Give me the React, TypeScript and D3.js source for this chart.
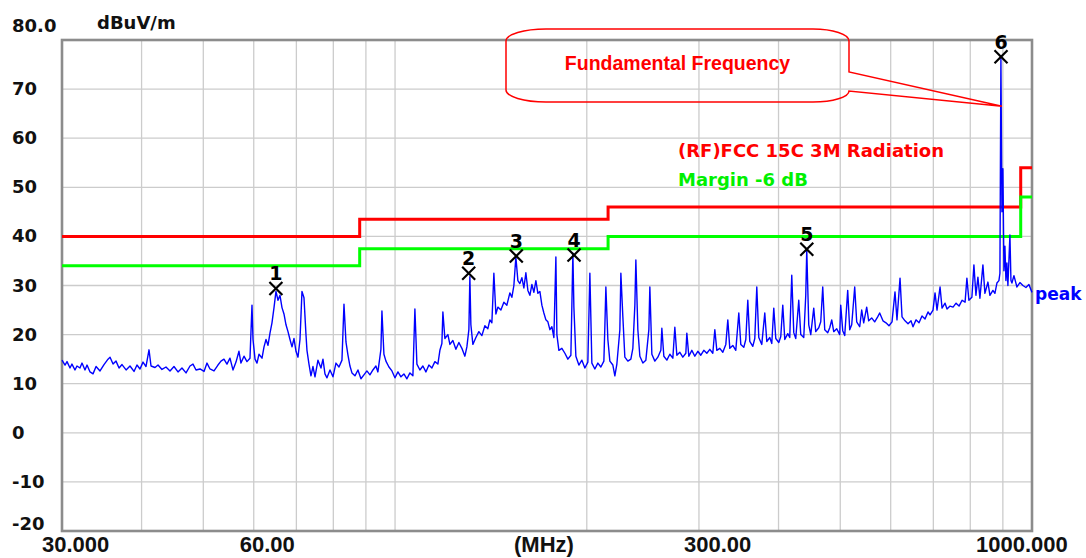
import React from 'react';
import * as d3 from 'd3';

// ---- data ----
const traceMHz = [
  30.00, 30.33, 30.55, 30.88, 31.10, 31.44, 31.67, 32.01, 32.25, 32.60, 32.84, 33.20, 33.56, 33.93, 34.42, 34.92,
  35.43, 35.69, 36.08, 36.47, 36.87, 37.27, 37.82, 38.36, 38.92, 39.34, 39.77, 40.21, 40.64, 41.09, 41.39, 41.99,
  42.45, 43.06, 43.69, 44.33, 44.97, 45.63, 46.29, 46.97, 47.65, 48.17, 48.70, 49.41, 50.13, 50.67, 51.22, 51.97,
  52.72, 53.30, 53.88, 54.46, 55.06, 55.66, 56.27, 56.88, 57.29, 57.92, 58.55, 59.19, 59.62, 59.84, 60.28, 60.71,
  61.15, 61.82, 62.27, 62.72, 63.17, 63.63, 64.09, 64.56, 65.02, 65.50, 65.97, 66.45, 66.93, 67.42, 67.91, 68.40,
  68.90, 69.40, 69.90, 70.41, 70.92, 71.43, 71.95, 72.47, 72.73, 73.26, 73.79, 74.33, 74.87, 75.68, 76.51, 77.06,
  77.62, 78.19, 79.04, 79.90, 80.77, 81.65, 82.54, 83.14, 83.74, 84.35, 84.96, 85.58, 86.51, 87.45, 88.40, 89.36,
  90.33, 91.32, 92.31, 93.32, 93.99, 95.02, 95.37, 96.06, 96.76, 97.82, 98.88, 99.96, 101.05, 102.15, 103.26, 104.38,
  105.52, 106.67, 107.44, 108.22, 109.40, 110.59, 111.80, 113.02, 114.25, 115.49, 116.75, 117.60, 118.45, 118.88, 119.74, 121.05,
  121.93, 123.25, 124.60, 125.96, 127.33, 128.72, 129.65, 130.59, 131.06, 131.54, 132.49, 133.94, 135.40, 136.87, 138.37, 139.87,
  140.89, 141.91, 142.94, 143.98, 145.02, 146.61, 148.20, 149.82, 151.45, 152.55, 153.66, 154.77, 155.90, 157.03, 158.17, 159.32,
  160.47, 161.64, 162.81, 163.99, 165.18, 166.38, 167.59, 168.80, 170.03, 171.26, 172.51, 173.76, 175.02, 176.29, 177.57, 178.86,
  179.51, 180.81, 182.78, 184.77, 186.78, 188.82, 189.50, 190.19, 190.88, 192.26, 194.36, 196.48, 198.62, 200.78, 202.24, 203.70,
  205.92, 208.17, 210.44, 212.73, 213.50, 214.28, 215.83, 217.40, 219.77, 221.36, 222.97, 225.40, 226.22, 227.86, 229.51, 232.01,
  234.54, 236.24, 237.96, 238.82, 240.55, 242.30, 244.94, 247.61, 250.31, 251.21, 253.04, 255.79, 258.58, 261.40, 262.35, 264.25,
  267.13, 270.04, 272.98, 274.96, 276.96, 279.97, 283.02, 286.11, 287.14, 289.23, 292.38, 295.57, 298.79, 302.04, 305.33, 308.66,
  312.02, 315.42, 317.71, 320.02, 323.50, 327.03, 330.59, 332.99, 335.40, 339.06, 342.75, 346.49, 349.00, 352.80, 355.36, 357.94,
  360.53, 364.46, 367.11, 369.77, 372.45, 376.51, 380.61, 383.37, 387.55, 390.36, 393.19, 396.04, 400.36, 403.26, 406.18, 409.13,
  413.58, 416.58, 418.09, 419.60, 422.65, 425.71, 430.35, 433.47, 438.19, 441.37, 442.97, 446.18, 449.42, 454.31, 457.60, 462.59,
  465.94, 469.32, 472.72, 477.87, 481.34, 484.82, 488.34, 493.66, 499.03, 500.84, 504.47, 508.13, 513.66, 517.38, 521.13, 526.81,
  530.62, 536.40, 540.29, 544.21, 550.13, 554.12, 560.16, 566.25, 572.42, 576.56, 583.5, 589.9, 596.3, 602.9, 609.4, 613.8,
  620.6, 625.1, 631.9, 638.8, 645.8, 650.4, 657.5, 664.7, 671.9, 679.3, 686.7, 691.7, 699.2, 704.3, 709.4, 717.2,
  722.4, 730.3, 735.5, 743.6, 751.7, 759.9, 768.2, 776.6, 785.1, 790.3, 796.0, 804.7, 810.6, 816.5, 822.4, 828.4,
  837.4, 843.5, 852.7, 858.9, 868.2, 874.5, 880.9, 887.3, 890.5, 893.7, 897.0, 900.2, 903.5, 906.8, 910.0, 913.3,
  916.6, 923.3, 926.7, 930.0, 936.8, 947.0, 957.3, 967.7, 978.3, 988.9, 1000.0,
];
const traceDb = [
  14.8, 13.8, 14.5, 13.2, 14.0, 12.8, 13.6, 13.2, 14.2, 12.8, 13.8, 12.4, 12.0, 13.5, 12.6, 13.9,
  15.0, 15.4, 14.0, 14.6, 13.2, 13.9, 12.8, 13.6, 12.5, 13.8, 13.0, 14.4, 13.5, 16.9, 13.6, 13.3,
  13.8, 12.9, 13.4, 12.6, 13.5, 12.4, 13.2, 12.2, 13.6, 14.0, 12.8, 13.0, 12.5, 14.2, 13.0, 12.6,
  13.8, 14.6, 15.0, 14.0, 15.2, 12.8, 14.4, 16.6, 14.2, 15.6, 14.5, 15.2, 26.0, 19.0, 15.0, 14.2,
  16.0, 15.2, 17.5, 19.0, 17.8, 20.3, 22.4, 25.5, 28.8, 27.0, 28.0, 25.5, 24.2, 22.0, 20.6, 19.0,
  17.5, 19.2, 16.6, 15.4, 19.0, 28.8, 27.5, 20.0, 16.8, 14.0, 11.6, 13.5, 11.4, 14.8, 13.2, 15.0,
  12.0, 11.2, 12.8, 11.4, 14.2, 13.4, 14.8, 26.2, 18.5, 15.8, 13.6, 12.2, 11.6, 12.8, 11.0, 11.8,
  12.6, 11.8, 12.8, 13.6, 12.4, 17.0, 24.8, 16.0, 14.6, 13.4, 12.6, 11.2, 12.4, 11.4, 12.0, 11.0,
  12.2, 11.6, 25.2, 14.0, 12.8, 13.6, 12.4, 13.8, 13.2, 14.5, 14.0, 16.8, 18.2, 24.6, 19.2, 20.0,
  18.0, 18.8, 17.0, 18.4, 17.2, 15.6, 17.5, 21.0, 31.8, 22.0, 18.0, 19.4, 20.6, 19.8, 21.8, 21.2,
  23.0, 22.4, 32.5, 24.2, 25.6, 25.0, 26.6, 26.0, 28.5, 27.6, 30.0, 35.8, 31.0, 30.4, 31.6, 29.5,
  32.6, 29.0, 28.0, 30.2, 28.6, 31.0, 28.4, 28.8, 26.0, 24.4, 23.0, 22.6, 21.0, 21.6, 19.4, 35.8,
  20.0, 16.8, 17.2, 16.2, 15.0, 15.8, 26.0, 36.6, 25.6, 15.6, 13.8, 14.8, 13.2, 14.4, 32.5, 14.2,
  13.0, 14.2, 13.4, 14.6, 21.6, 29.7, 19.0, 14.6, 13.8, 11.6, 14.0, 21.0, 32.5, 23.6, 15.4, 14.6,
  15.0, 17.2, 26.0, 35.2, 21.0, 15.6, 14.2, 14.8, 21.0, 29.7, 16.0, 14.6, 15.4, 16.8, 21.3, 15.6,
  14.8, 16.0, 15.2, 21.5, 15.8, 16.4, 15.4, 16.2, 20.3, 15.6, 16.8, 15.6, 16.6, 15.8, 16.8, 16.2,
  17.0, 16.2, 21.0, 16.8, 17.2, 16.4, 18.0, 23.0, 17.2, 17.8, 16.8, 24.4, 18.0, 17.4, 19.0, 27.0,
  18.6, 17.6, 19.2, 29.7, 19.4, 18.0, 24.4, 18.6, 19.4, 18.2, 25.4, 19.2, 18.4, 19.6, 26.0, 19.0,
  20.2, 19.4, 26.0, 32.1, 20.4, 19.2, 27.0, 20.0, 19.4, 28.0, 37.2, 22.0, 20.0, 25.4, 20.6, 21.4,
  22.6, 29.7, 21.0, 20.4, 21.4, 23.0, 20.6, 21.2, 20.0, 26.0, 20.8, 19.8, 29.0, 21.0, 22.0, 29.7,
  22.6, 21.6, 25.0, 22.4, 25.6, 22.8, 23.4, 22.6, 23.6, 24.4, 22.8, 22.4, 21.8, 22.6, 28.7, 23.0,
  31.5, 23.6, 22.8, 22.2, 22.8, 21.6, 23.0, 22.4, 23.8, 23.2, 24.6, 24.0, 25.0, 28.5, 25.0, 29.7,
  25.4, 26.4, 25.2, 25.8, 25.6, 26.4, 25.8, 27.0, 26.6, 31.5, 27.0, 27.6, 34.2, 28.0, 31.7, 27.4,
  34.2, 28.4, 30.7, 28.0, 29.0, 28.4, 30.5, 31.0, 32.5, 76.3, 45.0, 53.8, 33.0, 38.0, 31.0, 34.6,
  30.0, 40.3, 31.0, 30.5, 32.0, 29.7, 30.6, 30.0, 29.6, 30.2, 28.6,
];

const limitMHz = [30, 88, 216, 960, 1000];
const limitDb = [40, 43.5, 46, 54, 54];
const marginOffsetDb = -6;

const markerIds = ['1', '2', '3', '4', '5', '6'];
const markerMHz = [65.0, 130.5, 155.0, 191.0, 443.0, 894.0];
const markerDb = [29.4, 32.5, 36.0, 36.2, 37.4, 76.6];

const yTicks = [80, 70, 60, 50, 40, 30, 20, 10, 0, -10, -20];
const yTickLabels = ['80.0', '70', '60', '50', '40', '30', '20', '10', '0', '-10', '-20'];
const xGridMHz = [40, 50, 60, 70, 80, 90, 100, 200, 300, 400, 500, 600, 700, 800, 900];
const xLabelMHz = [30, 60, 300, 1000];
const xLabelText = ['30.000', '60.00', '300.00', '1000.000'];

const calloutTipMHz = 897;
const calloutTipDb = 66.5;

// ---- layout ----
const W = 1086;
const H = 558;
const PL = 62, PR = 1032, PT = 40, PB = 531;
const xLabelDx = [-20, -14, -15, -56];

const BOLD_BMP = '"DejaVu Sans", sans-serif';
const BOLD_ARIAL = '"Liberation Sans", Arial, sans-serif';

export default function App() {
  const x = d3.scaleLog().domain([30, 1000]).range([PL, PR]);
  const y = d3.scaleLinear().domain([-20, 80]).range([PB, PT]);

  const trace = traceMHz.map((f, i) => [f, traceDb[i]] as [number, number]);
  const lineGen = d3.line<[number, number]>().x((d) => x(d[0])).y((d) => y(d[1]));
  const stepGen = d3
    .line<[number, number]>()
    .x((d) => x(d[0]))
    .y((d) => y(d[1]))
    .curve(d3.curveStepAfter);
  const limit = limitMHz.map((f, i) => [f, limitDb[i]] as [number, number]);
  const margin = limitMHz.map((f, i) => [f, limitDb[i] + marginOffsetDb] as [number, number]);

  const tipX = x(calloutTipMHz);
  const tipY = y(calloutTipDb);
  const L = 506, R = 849, T = 29, B = 102;
  const calloutPath =
    `M ${L + 40} ${T} H ${R - 36} A 36 12 0 0 1 ${R} ${T + 12} V 72 L ${tipX} ${tipY} L ${R} 91 ` +
    `A 36 11 0 0 1 ${R - 36} ${B} H ${L + 40} A 40 12 0 0 1 ${L} ${B - 12} V ${T + 12} A 40 12 0 0 1 ${L + 40} ${T} Z`;

  return (
    <svg
      width={W}
      height={H}
      viewBox={`0 0 ${W} ${H}`}
      style={{ position: 'fixed', left: 0, top: 0, background: '#fff' }}
    >
      <rect x={0} y={0} width={W} height={H} fill="#fff" />
      {/* grid */}
      <g stroke="#cccccc" strokeWidth={1.3}>
        {yTicks.slice(1, -1).map((v) => (
          <line key={'h' + v} x1={PL} x2={PR} y1={y(v)} y2={y(v)} />
        ))}
        {xGridMHz.map((f) => (
          <line key={'v' + f} x1={x(f)} x2={x(f)} y1={PT} y2={PB} />
        ))}
      </g>
      {/* frame */}
      <rect x={PL} y={PT} width={PR - PL} height={PB - PT} fill="none" stroke="#8c8c8c" strokeWidth={2.6} />

      {/* limits */}
      <path d={stepGen(limit) || ''} fill="none" stroke="#ff0000" strokeWidth={3} />
      <path d={stepGen(margin) || ''} fill="none" stroke="#00ff00" strokeWidth={3} />

      {/* trace */}
      <path d={lineGen(trace) || ''} fill="none" stroke="#0000ff" strokeWidth={1.4} strokeLinejoin="round" />

      {/* markers */}
      {markerMHz.map((f, i) => {
        const cx = x(f);
        const cy = y(markerDb[i]);
        const s = 6.5;
        return (
          <g key={'m' + i}>
            <line x1={cx - s} y1={cy - s} x2={cx + s} y2={cy + s} stroke="#000" strokeWidth={2.2} />
            <line x1={cx - s} y1={cy + s} x2={cx + s} y2={cy - s} stroke="#000" strokeWidth={2.2} />
            <text
              x={cx}
              y={cy - 8}
              textAnchor="middle"
              fontFamily={BOLD_BMP}
              fontWeight="bold"
              fontSize={19}
              fill="#000"
            >
              {markerIds[i]}
            </text>
          </g>
        );
      })}

      {/* y labels */}
      {yTicks.map((v, i) => {
        let by = y(v) + 6;
        if (i === 0) by = 32;
        if (i === yTicks.length - 1) by = 530;
        return (
          <text key={'yl' + v} x={12} y={by} fontFamily={BOLD_BMP} fontWeight="bold" fontSize={18} fill="#111">
            {yTickLabels[i]}
          </text>
        );
      })}
      <text x={97} y={29} fontFamily={BOLD_BMP} fontWeight="bold" fontSize={18} fill="#111">
        dBuV/m
      </text>

      {/* x labels */}
      {xLabelMHz.map((f, i) => (
        <text
          key={'xl' + f}
          x={x(f) + xLabelDx[i]}
          y={552}
          fontFamily={BOLD_ARIAL}
          fontWeight="bold"
          fontSize={22}
          fill="#111"
        >
          {xLabelText[i]}
        </text>
      ))}
      <text x={514} y={552} fontFamily={BOLD_ARIAL} fontWeight="bold" fontSize={22} fill="#111">
        (MHz)
      </text>

      {/* legend */}
      <text x={678} y={157} fontFamily={BOLD_BMP} fontWeight="bold" fontSize={18} fill="#ff0000">
        (RF)FCC 15C 3M Radiation
      </text>
      <text x={678} y={186} fontFamily={BOLD_BMP} fontWeight="bold" fontSize={18} fill="#00f000">
        Margin -6 dB
      </text>
      <text x={1035} y={300} fontFamily={BOLD_BMP} fontWeight="bold" fontSize={17} fill="#0000ff">
        peak
      </text>

      {/* callout */}
      <path d={calloutPath} fill="none" stroke="#ff0000" strokeWidth={1.5} />
      <text
        x={677.5}
        y={70}
        textAnchor="middle"
        fontFamily={BOLD_ARIAL}
        fontWeight="bold"
        fontSize={19.5}
        fill="#ff0000"
      >
        Fundamental Frequency
      </text>
    </svg>
  );
}
